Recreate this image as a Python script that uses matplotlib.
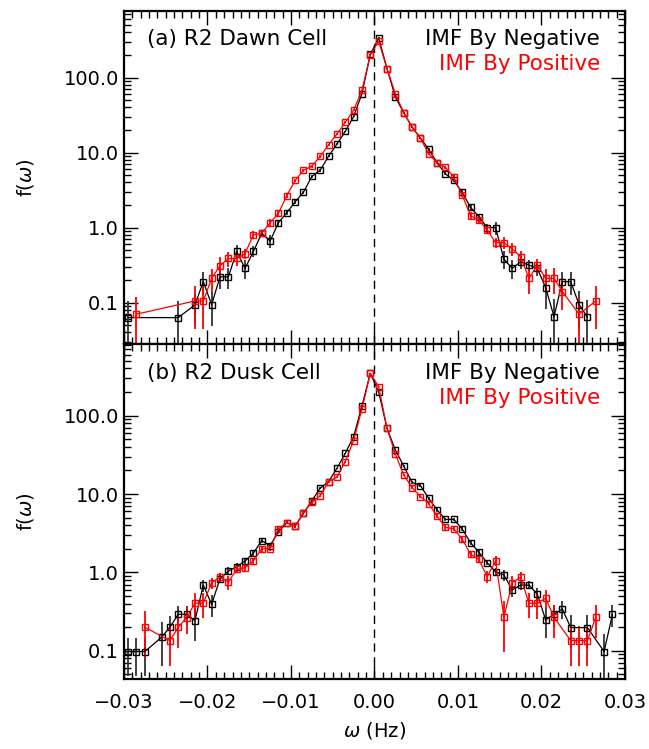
import numpy as np
import matplotlib
matplotlib.use("Agg")
from matplotlib import pyplot as plt
from matplotlib.ticker import FixedLocator, MultipleLocator, LogLocator, NullFormatter

# ---- panel (a) R2 Dawn Cell ----
a_neg_x = [-0.0295, -0.0235, -0.0215, -0.0205, -0.0195, -0.0185, -0.0175, -0.0165, -0.0155, -0.0145,
           -0.0135, -0.0125, -0.0115, -0.0105, -0.0095, -0.0085, -0.0075, -0.0065, -0.0055, -0.0045,
           -0.0035, -0.0025, -0.0015, -0.0005, 0.0005, 0.0015, 0.0025, 0.0035, 0.0045, 0.0055,
           0.0065, 0.0075, 0.0085, 0.0095, 0.0105, 0.0115, 0.0125, 0.0135, 0.0145, 0.0155,
           0.0165, 0.0175, 0.0185, 0.0195, 0.0205, 0.0215, 0.0225, 0.0235, 0.0245, 0.0255]
a_neg_y = [0.063, 0.063, 0.093, 0.19, 0.094, 0.22, 0.22, 0.48, 0.285, 0.48,
           0.84, 0.66, 1.16, 1.58, 2.2, 2.96, 4.8, 5.8, 8.95, 12.9,
           19.1, 30.1, 61, 203, 338, 132, 55, 34, 21.9, 15.6,
           11.0, 7.3, 5.2, 4.24, 2.96, 1.86, 1.40, 1.0, 1.0, 0.38,
           0.285, 0.35, 0.316, 0.285, 0.158, 0.065, 0.19, 0.19, 0.094, 0.064]
a_neg_err = [0.042, 0.042, 0.04, 0.065, 0.045, 0.07, 0.07, 0.1, 0.08, 0.08,
             0.1, 0.13, 0.12, 0.12, 0.12, 0.14, 0.2, 0.25, 0.3, 0.4,
             0.5, 0.7, 1.2, 3.0, 4.0, 2.0, 1.2, 0.9, 0.6, 0.5,
             0.4, 0.3, 0.25, 0.2, 0.18, 0.15, 0.12, 0.12, 0.2, 0.1,
             0.08, 0.07, 0.05, 0.06, 0.075, 0.045, 0.065, 0.065, 0.05, 0.045]

a_pos_x = [-0.0285, -0.0215, -0.0205, -0.0195, -0.0185, -0.0175, -0.0165, -0.0155, -0.0145, -0.0135,
           -0.0125, -0.0115, -0.0105, -0.0095, -0.0085, -0.0075, -0.0065, -0.0055, -0.0045, -0.0035,
           -0.0025, -0.0015, -0.0005, 0.0005, 0.0015, 0.0025, 0.0035, 0.0045, 0.0055, 0.0065,
           0.0075, 0.0085, 0.0095, 0.0105, 0.0115, 0.0125, 0.0135, 0.0145, 0.0155, 0.0165,
           0.0175, 0.0185, 0.0195, 0.0205, 0.0215, 0.0225, 0.0245, 0.0265]
a_pos_y = [0.070, 0.105, 0.105, 0.21, 0.31, 0.387, 0.387, 0.45, 0.80, 0.84,
           1.16, 1.55, 2.67, 4.24, 5.8, 6.58, 8.87, 12.7, 17.6, 25.3,
           36.5, 67.6, 200, 305, 132, 61, 34, 21.9, 15.5, 9.6,
           7.3, 6.38, 4.7, 2.73, 1.44, 1.26, 0.93, 0.63, 0.63, 0.52,
           0.41, 0.21, 0.316, 0.21, 0.21, 0.14, 0.070, 0.105]
a_pos_err = [0.047, 0.06, 0.06, 0.07, 0.09, 0.09, 0.08, 0.07, 0.1, 0.1,
             0.15, 0.15, 0.2, 0.25, 0.3, 0.3, 0.4, 0.5, 0.6, 0.8,
             1.0, 1.5, 3.0, 4.0, 2.0, 1.3, 0.9, 0.6, 0.5, 0.4,
             0.3, 0.3, 0.25, 0.2, 0.15, 0.15, 0.12, 0.1, 0.12, 0.1,
             0.08, 0.08, 0.07, 0.07, 0.08, 0.06, 0.045, 0.06]

# ---- panel (b) R2 Dusk Cell ----
b_neg_x = [-0.0295, -0.0285, -0.0275, -0.0255, -0.0245, -0.0235, -0.0225, -0.0215, -0.0205, -0.0195,
           -0.0185, -0.0175, -0.0165, -0.0155, -0.0145, -0.0135, -0.0125, -0.0115, -0.0105, -0.0095,
           -0.0085, -0.0075, -0.0065, -0.0055, -0.0045, -0.0035, -0.0025, -0.0015, -0.0005,
           0.0005, 0.0015, 0.0025, 0.0035, 0.0045, 0.0055, 0.0065, 0.0075, 0.0085, 0.0095,
           0.0105, 0.0115, 0.0125, 0.0135, 0.0145, 0.0155, 0.0165, 0.0175, 0.0185, 0.0195,
           0.0205, 0.0215, 0.0225, 0.0235, 0.0255, 0.0275, 0.0285]
b_neg_y = [0.098, 0.098, 0.098, 0.149, 0.20, 0.293, 0.293, 0.243, 0.687, 0.393,
           0.83, 1.04, 1.19, 1.40, 1.76, 2.55, 2.2, 3.3, 4.3, 3.9,
           5.7, 8.2, 11.9, 14.4, 21.3, 33, 54, 133, 347,
           202, 69, 36.5, 22.8, 14.1, 12.8, 8.8, 6.27, 4.75, 4.75,
           3.59, 2.4, 1.81, 1.33, 1.02, 0.93, 0.60, 0.69, 0.69, 0.53,
           0.248, 0.293, 0.342, 0.198, 0.198, 0.098, 0.293]
b_neg_err = [0.05, 0.05, 0.05, 0.085, 0.08, 0.08, 0.08, 0.11, 0.12, 0.12,
             0.1, 0.12, 0.12, 0.12, 0.15, 0.15, 0.15, 0.2, 0.2, 0.2,
             0.25, 0.3, 0.35, 0.4, 0.5, 0.7, 1.0, 2.0, 4.0,
             3.0, 1.3, 0.9, 0.6, 0.5, 0.45, 0.35, 0.3, 0.25, 0.25,
             0.2, 0.18, 0.15, 0.1, 0.12, 0.15, 0.12, 0.1, 0.08, 0.1,
             0.1, 0.09, 0.09, 0.09, 0.09, 0.065, 0.09]

b_pos_x = [-0.0275, -0.0245, -0.0235, -0.0225, -0.0215, -0.0205, -0.0195, -0.0185, -0.0175, -0.0165,
           -0.0155, -0.0145, -0.0135, -0.0125, -0.0115, -0.0105, -0.0095, -0.0085, -0.0075, -0.0065,
           -0.0055, -0.0045, -0.0035, -0.0025, -0.0015, -0.0005,
           0.0005, 0.0015, 0.0025, 0.0035, 0.0045, 0.0055, 0.0065, 0.0075, 0.0085, 0.0095,
           0.0105, 0.0115, 0.0125, 0.0135, 0.0145, 0.0155, 0.0165, 0.0175, 0.0185, 0.0195,
           0.0205, 0.0215, 0.0235, 0.0245, 0.0255, 0.0265]
b_pos_y = [0.20, 0.135, 0.20, 0.265, 0.405, 0.405, 0.74, 0.87, 0.75, 1.10,
           1.15, 1.40, 2.0, 2.02, 3.59, 4.3, 3.9, 5.8, 7.85, 9.5,
           14.4, 16.4, 25.9, 48, 122, 347,
           234, 69, 32.4, 17.5, 12.1, 9.3, 7.55, 5.2, 3.77, 3.59,
           2.67, 1.71, 1.47, 0.88, 1.40, 0.268, 0.74, 0.87, 0.405, 0.405,
           0.469, 0.268, 0.135, 0.135, 0.135, 0.268]
b_pos_err = [0.12, 0.07, 0.09, 0.1, 0.14, 0.14, 0.12, 0.1, 0.15, 0.12,
             0.15, 0.15, 0.15, 0.15, 0.2, 0.2, 0.2, 0.25, 0.3, 0.35,
             0.4, 0.5, 0.7, 1.0, 2.0, 4.0,
             3.0, 1.3, 0.9, 0.6, 0.5, 0.4, 0.35, 0.3, 0.25, 0.25,
             0.2, 0.18, 0.15, 0.15, 0.2, 0.17, 0.15, 0.15, 0.14, 0.15,
             0.12, 0.12, 0.07, 0.07, 0.07, 0.12]

y_ticks = [0.1, 1.0, 10.0, 100.0]
y_tick_labels = ["0.1", "1.0", "10.0", "100.0"]
x_ticks = [-0.03, -0.02, -0.01, 0.0, 0.01, 0.02, 0.03]
x_tick_labels = ["\u22120.03", "\u22120.02", "\u22120.01", "0.00", "0.01", "0.02", "0.03"]

plt.rcParams['font.family'] = ['DejaVu Sans']
plt.rcParams['mathtext.fontset'] = 'dejavusans'

fig = plt.figure(figsize=(6.49, 7.49), dpi=100)
ax_a = fig.add_axes([0.191, 0.5407, 0.772, 0.4451])
ax_b = fig.add_axes([0.191, 0.0932, 0.772, 0.4475])

panels = [
    (ax_a, "(a) R2 Dawn Cell", a_neg_x, a_neg_y, a_neg_err, a_pos_x, a_pos_y, a_pos_err, (0.028, 780)),
    (ax_b, "(b) R2 Dusk Cell", b_neg_x, b_neg_y, b_neg_err, b_pos_x, b_pos_y, b_pos_err, (0.0435, 820)),
]

for ax, title, nx, ny, ne, px, py, pe, ylim in panels:
    ax.set_yscale('log')
    ax.set_xlim(-0.03, 0.03)
    ax.set_ylim(*ylim)

    ax.errorbar(nx, ny, yerr=ne, color='black', ecolor='#333333', elinewidth=1.3,
                lw=0.9, marker='s', ms=4.2, mfc='none', mec='black', mew=1.0, capsize=0)
    ax.errorbar(px, py, yerr=pe, color='red', ecolor='red', elinewidth=1.3,
                lw=0.9, marker='s', ms=4.2, mfc='none', mec='red', mew=1.0, capsize=0)

    ax.axvline(0.0, color='black', lw=1.0, ls=(0, (6, 4)))

    ax.xaxis.set_major_locator(FixedLocator(x_ticks))
    ax.xaxis.set_minor_locator(MultipleLocator(0.001))
    ax.yaxis.set_major_locator(FixedLocator(y_ticks))
    ax.yaxis.set_minor_locator(LogLocator(base=10, subs=np.arange(2, 10), numticks=20))
    ax.yaxis.set_minor_formatter(NullFormatter())
    ax.set_yticklabels(y_tick_labels)

    ax.tick_params(which='both', direction='in', top=True, right=True, width=1.0, labelsize=14)
    ax.tick_params(which='major', length=10)
    ax.tick_params(which='minor', length=5)
    for s in ax.spines.values():
        s.set_linewidth(1.6)

    ax.set_ylabel(r"f($\omega$)", fontsize=14, labelpad=20)

    ax.text(0.045, 0.915, title, transform=ax.transAxes, fontsize=15.5, ha='left', va='center')
    ax.text(0.95, 0.915, "IMF By Negative", transform=ax.transAxes, fontsize=15.5,
            ha='right', va='center', color='black')
    ax.text(0.95, 0.84, "IMF By Positive", transform=ax.transAxes, fontsize=15.5,
            ha='right', va='center', color='red')

ax_a.set_xticklabels([])
ax_b.set_xticklabels(x_tick_labels)
ax_b.tick_params(axis='x', pad=10)
ax_b.set_xlabel(r"$\omega$ (Hz)", fontsize=14, labelpad=6)

fig.savefig("out.png", dpi=100)
